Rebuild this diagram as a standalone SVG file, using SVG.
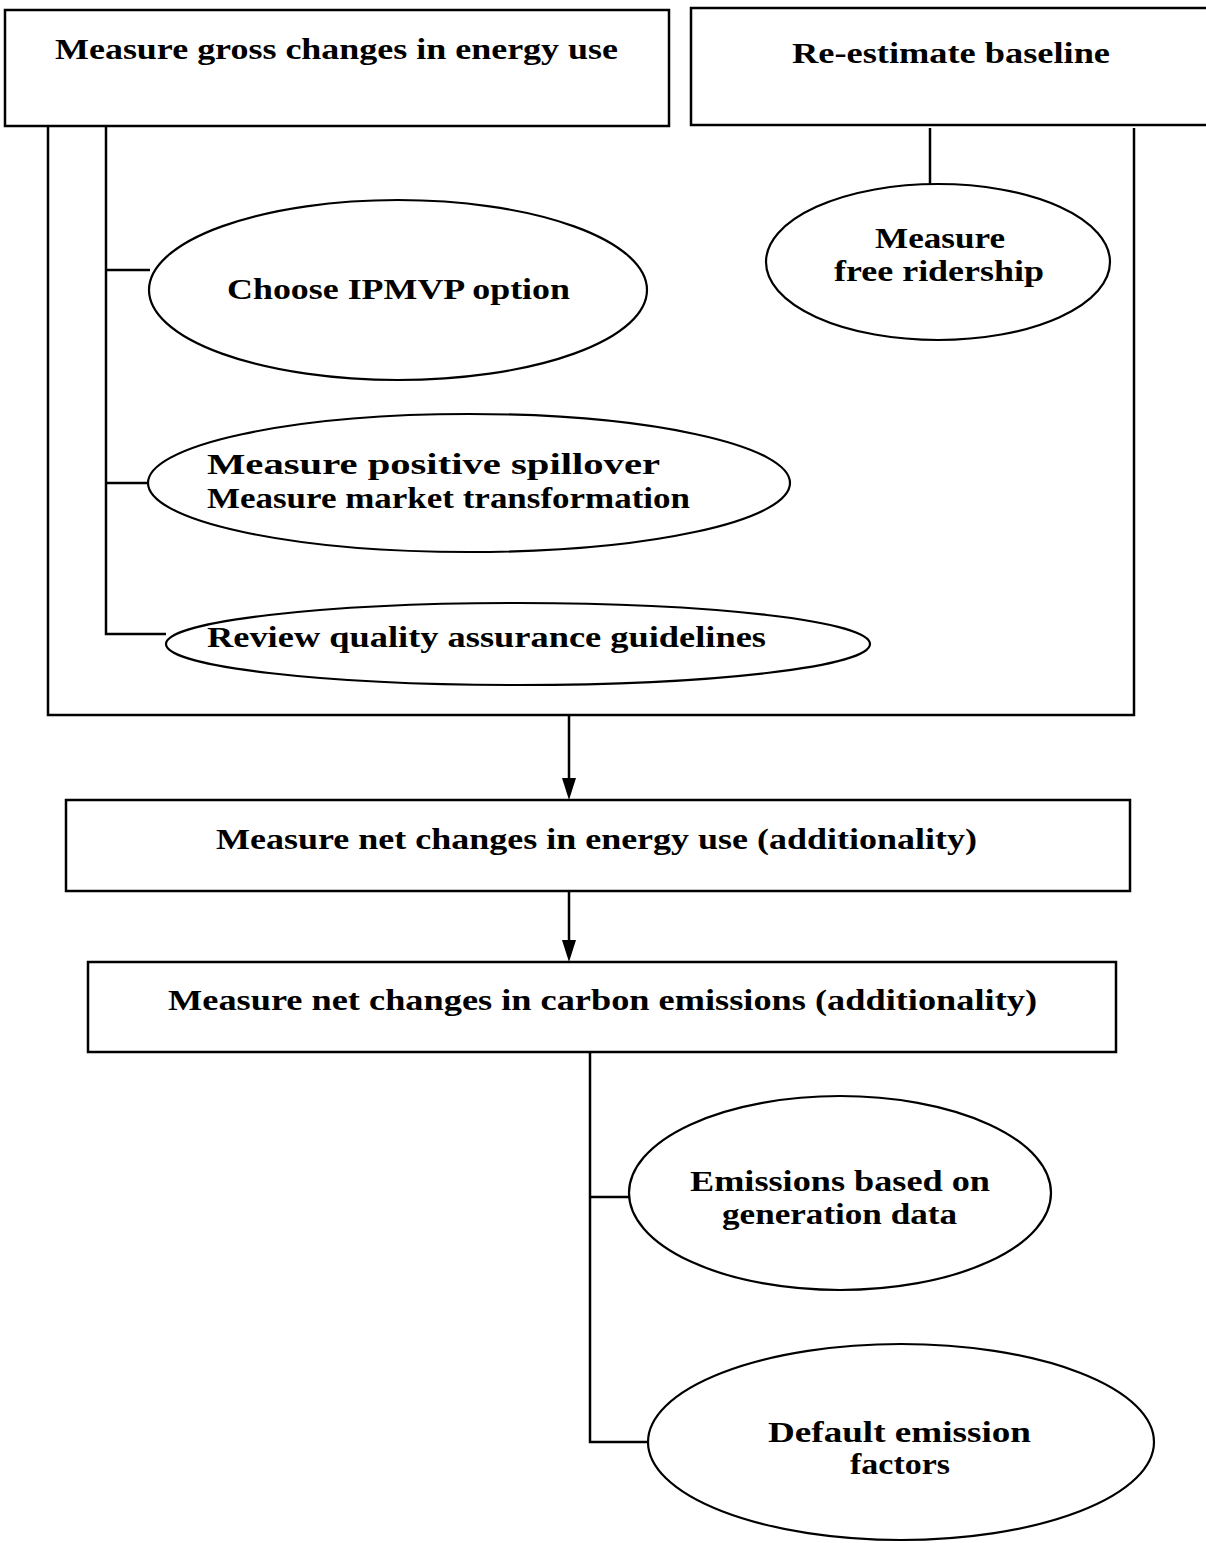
<svg xmlns="http://www.w3.org/2000/svg" width="1206" height="1543" viewBox="0 0 1206 1543">
<style>
.box{fill:#fff;stroke:#000;stroke-width:2.5}
.ell{fill:#fff;stroke:#000;stroke-width:2.2}
.ln{fill:none;stroke:#000;stroke-width:2.5}
text{font-family:"Liberation Serif","Times New Roman",serif;font-weight:bold;font-size:29px;fill:#000}
</style>
<rect width="1206" height="1543" fill="#fff"/>
<g id="connectors">
<polyline class="ln" points="48,126 48,715 1134,715 1134,128"/>
<polyline class="ln" points="106,126 106,634 166,634"/>
<line class="ln" x1="106" y1="270" x2="150" y2="270"/>
<line class="ln" x1="106" y1="483" x2="150" y2="483"/>
<line class="ln" x1="930" y1="128" x2="930" y2="185"/>
<line class="ln" x1="569" y1="715" x2="569" y2="778"/>
<path d="M562,778 L576,778 L569,800 Z" fill="#000"/>
<line class="ln" x1="569" y1="891" x2="569" y2="940"/>
<path d="M562,940 L576,940 L569,962 Z" fill="#000"/>
<polyline class="ln" points="590,1052 590,1442 650,1442"/>
<line class="ln" x1="590" y1="1197" x2="630" y2="1197"/>
</g>
<g id="n-gross">
<rect class="box" x="5" y="10" width="664" height="116"/>
<text x="55" y="59" textLength="563" lengthAdjust="spacingAndGlyphs">Measure gross changes in energy use</text>
</g>
<g id="n-baseline">
<rect class="box" x="691" y="8" width="530" height="117"/>
<text x="792" y="63" textLength="318" lengthAdjust="spacingAndGlyphs">Re-estimate baseline</text>
</g>
<g id="n-ipmvp">
<ellipse class="ell" cx="398" cy="290" rx="249" ry="90"/>
<text x="227" y="299" textLength="343" lengthAdjust="spacingAndGlyphs">Choose IPMVP option</text>
</g>
<g id="n-free">
<ellipse class="ell" cx="938" cy="262" rx="172" ry="78"/>
<text x="875" y="248" textLength="130" lengthAdjust="spacingAndGlyphs">Measure</text>
<text x="834" y="281" textLength="210" lengthAdjust="spacingAndGlyphs">free ridership</text>
</g>
<g id="n-spill">
<ellipse class="ell" cx="469" cy="483" rx="321" ry="69"/>
<text x="207" y="474" textLength="453" lengthAdjust="spacingAndGlyphs">Measure positive spillover</text>
<text x="207" y="508" textLength="483" lengthAdjust="spacingAndGlyphs">Measure market transformation</text>
</g>
<g id="n-qa">
<ellipse class="ell" cx="518" cy="644" rx="352" ry="41"/>
<text x="207" y="647" textLength="559" lengthAdjust="spacingAndGlyphs">Review quality assurance guidelines</text>
</g>
<g id="n-net-energy">
<rect class="box" x="66" y="800" width="1064" height="91"/>
<text x="216" y="849" textLength="761" lengthAdjust="spacingAndGlyphs">Measure net changes in energy use (additionality)</text>
</g>
<g id="n-net-carbon">
<rect class="box" x="88" y="962" width="1028" height="90"/>
<text x="168" y="1010" textLength="869" lengthAdjust="spacingAndGlyphs">Measure net changes in carbon emissions (additionality)</text>
</g>
<g id="n-gen">
<ellipse class="ell" cx="840" cy="1193" rx="211" ry="97"/>
<text x="690" y="1191" textLength="300" lengthAdjust="spacingAndGlyphs">Emissions based on</text>
<text x="722" y="1224" textLength="235" lengthAdjust="spacingAndGlyphs">generation data</text>
</g>
<g id="n-default">
<ellipse class="ell" cx="901" cy="1442" rx="253" ry="98"/>
<text x="768" y="1442" textLength="263" lengthAdjust="spacingAndGlyphs">Default emission</text>
<text x="850" y="1474" textLength="100" lengthAdjust="spacingAndGlyphs">factors</text>
</g>
</svg>
